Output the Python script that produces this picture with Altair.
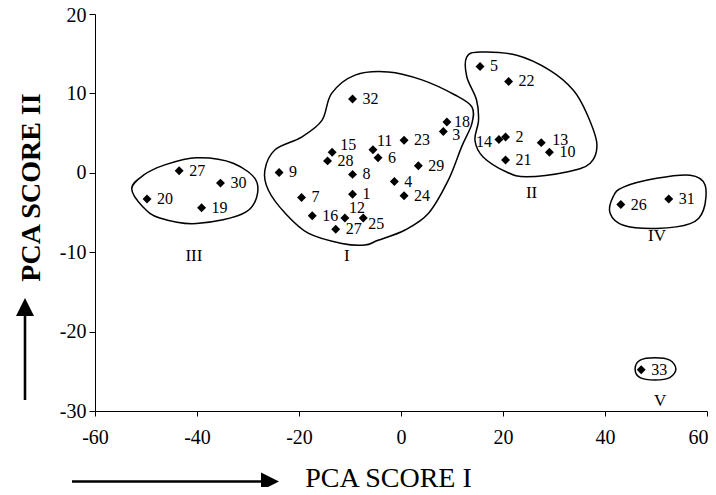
import altair as alt
import pandas as pd

# ---- sample scores ----
ids = ["20", "27", "30", "19",
       "32", "18", "3", "11", "23", "15", "28", "6", "29", "9", "8", "4",
       "7", "1", "24", "16", "12", "25", "27",
       "5", "22", "14", "2", "13", "10", "21",
       "26", "31", "33"]
pc1 = [-49.8, -43.5, -35.4, -39.1,
       -9.5, 9.0, 8.3, -5.5, 0.6, -13.5, -14.4, -4.5, 3.4, -23.9, -9.5, -1.3,
       -19.5, -9.5, 0.6, -17.4, -11.0, -7.4, -12.8,
       15.5, 21.1, 19.2, 20.5, 27.5, 29.1, 20.5,
       43.1, 52.5, 47.1]
pc2 = [-3.3, 0.25, -1.3, -4.4,
       9.3, 6.4, 5.2, 2.9, 4.1, 2.6, 1.5, 1.9, 0.9, 0.05, -0.2, -1.1,
       -3.1, -2.7, -2.9, -5.4, -5.7, -5.7, -7.1,
       13.4, 11.5, 4.2, 4.5, 3.8, 2.6, 1.6,
       -4.0, -3.3, -24.8]

# ---- cluster names ----
cluster_names = ["III", "I", "II", "IV", "V"]
cluster_name_x = [-40.6, -10.6, 25.6, 50.2, 50.8]
cluster_name_y = [-10.5, -10.5, -2.6, -8.0, -28.8]

# ---- hand-drawn cluster outlines ----
out_III_x = [-52.8, -50.5, -46.3, -40.1, -32.9, -28.2, -30.3, -40.1, -47.3, -50.6]
out_III_y = [-2.0, -0.3, 1.0, 1.9, 1.2, -1.3, -4.9, -6.4, -5.7, -4.3]
out_I_x = [-9.0, -2.5, 4.1, 10.6, 13.9, 13.9, 11.9, 9.3, 5.4, 0.8, -4.5, -7.1,
           -11.6, -18.2, -22.7, -26.0, -26.7, -24.7, -19.5, -15.5, -13.6]
out_I_y = [12.3, 12.7, 11.7, 9.8, 8.3, 6.2, 3.3, -0.9, -5.1, -7.2, -8.5, -9.1,
           -8.9, -7.6, -5.1, -2.2, 0.3, 2.9, 4.5, 6.6, 10.0]
out_II_x = [12.9, 15.5, 22.7, 29.2, 33.8, 36.4, 38.4, 37.1, 32.5, 24.6, 20.7,
            16.1, 14.5, 15.2, 14.8, 12.9]
out_II_y = [14.6, 15.2, 14.8, 12.9, 10.4, 7.5, 3.7, 1.2, 0.1, -0.5, 0.1,
            2.0, 4.1, 6.6, 9.2, 12.1]
out_IV_x = [41.6, 43.6, 50.1, 56.7, 59.6, 59.3, 56.7, 50.1, 43.6, 41.0]
out_IV_y = [-3.0, -1.8, -0.7, -0.3, -1.5, -4.7, -6.4, -7.0, -6.6, -5.1]
out_V_x = [45.9, 46.9, 49.8, 52.7, 53.9, 52.7, 49.8, 46.9]
out_V_y = [-24.7, -23.6, -23.3, -23.6, -24.7, -25.8, -26.1, -25.8]

x_ticks = [-60, -40, -20, 0, 20, 40, 60]
y_ticks = [20, 15, 10, 5, 0, -5, -10, -15, -20, -25, -30]

# ---- tables ----
pts = pd.DataFrame({"id": ids, "pc1": pc1, "pc2": pc2})
names = pd.DataFrame({"name": cluster_names, "pc1": cluster_name_x, "pc2": cluster_name_y})
rows = []
for cname, xs_, ys_ in [("III", out_III_x, out_III_y), ("I", out_I_x, out_I_y),
                        ("II", out_II_x, out_II_y), ("IV", out_IV_x, out_IV_y),
                        ("V", out_V_x, out_V_y)]:
    for i, (a, b) in enumerate(zip(xs_, ys_)):
        rows.append({"cluster": cname, "o": i, "pc1": a, "pc2": b})
outlines = pd.DataFrame(rows)

FONT = "Liberation Serif"
xs = alt.Scale(domain=[-60, 60], nice=False, zero=False)
ys = alt.Scale(domain=[-30, 20], nice=False, zero=False)

X = alt.X("pc1:Q", scale=xs, axis=alt.Axis(
    values=x_ticks, title="PCA SCORE I", grid=False, tickSize=5,
    labelPadding=11, labelFontSize=20, labelFont=FONT, labelColor="black",
    labelExpr="'' + datum.value",
    labelAlign={"condition": {"test": "datum.value == 60", "value": "right"}, "value": "center"},
    labelOffset={"condition": {"test": "datum.value == 60", "value": 1}, "value": 0},
    domainColor="black", tickColor="black", titleFont=FONT, titleFontSize=28,
    titleFontWeight="normal", titleColor="black", titleX=293, titleY=75,
    titleAlign="center", titleBaseline="alphabetic", labelFlush=False))
Y = alt.Y("pc2:Q", scale=ys, axis=alt.Axis(
    values=y_ticks, title="PCA SCORE II", grid=False, tickSize=6,
    labelPadding=3, labelFontSize=20, labelFont=FONT, labelColor="black",
    labelExpr="'' + datum.value",
    labelOffset={"condition": {"test": "datum.value == 20", "value": 1}, "value": 0},
    domainColor="black", tickColor="black", titleFont=FONT, titleFontSize=28,
    titleFontWeight="bold", titleColor="black", titleX=-64, titleY=173,
    titleAngle=270, titleAlign="center", titleBaseline="middle", labelFlush=False))

outline_layer = alt.Chart(outlines).mark_line(
    interpolate="cardinal-closed", color="black", strokeWidth=1.5
).encode(x=X, y=Y, detail="cluster:N", order="o:Q")

PX = alt.X("pc1:Q", scale=xs)
PY = alt.Y("pc2:Q", scale=ys)

point_layer = alt.Chart(pts).mark_point(
    shape="diamond", filled=True, color="black", size=80, opacity=1, strokeWidth=0
).encode(x=PX, y=PY)

special = {"14": (-7, 3, "right"), "12": (4, -10, "left"), "11": (4, -9, "left"),
           "15": (8, -7, "left"), "25": (5, 6, "left"), "13": (11, -3, "left"),
           "3": (9, 3, "left"), "18": (7, 0, "left")}
lab_layers = []
normal = [i for i in ids if i not in special]
lab_layers.append(alt.Chart(pts).transform_filter(
    alt.FieldOneOfPredicate(field="id", oneOf=normal)
).mark_text(align="left", baseline="middle", dx=10, font=FONT, fontSize=16,
            color="black").encode(x=PX, y=PY, text="id:N"))
for key, (dx, dy, al) in special.items():
    lab_layers.append(alt.Chart(pts).transform_filter(
        alt.datum.id == key
    ).mark_text(align=al, baseline="middle", dx=dx, dy=dy, font=FONT, fontSize=16,
                color="black").encode(x=PX, y=PY, text="id:N"))

name_layer = alt.Chart(names).mark_text(
    align="center", baseline="middle", font=FONT, fontSize=17, color="black"
).encode(x=PX, y=PY, text="name:N")

# ---- arrows beside the axis titles ----
arrow_df = pd.DataFrame({"a": [0]})
x_arrow = alt.Chart(arrow_df).mark_rule(color="black", strokeWidth=2.6).encode(
    x=alt.value(-23), x2=alt.value(170), y=alt.value(467.5))
x_head = alt.Chart(arrow_df).mark_point(
    shape="M-1,-1L1,0L-1,1Z", filled=True, color="black", size=324, opacity=1, strokeWidth=0
).encode(x=alt.value(175), y=alt.value(467.5))
y_arrow = alt.Chart(arrow_df).mark_rule(color="black", strokeWidth=2.6).encode(
    x=alt.value(-70), y=alt.value(386), y2=alt.value(298))
y_head = alt.Chart(arrow_df).mark_point(
    shape="M-1,1L0,-1L1,1Z", filled=True, color="black", size=324, opacity=1, strokeWidth=0
).encode(x=alt.value(-70), y=alt.value(293))

chart = alt.layer(
    outline_layer, point_layer, *lab_layers, name_layer,
    x_arrow, x_head, y_arrow, y_head
).properties(
    width=612, height=397,
    autosize=alt.AutoSizeParams(type="none"),
    padding={"left": 87, "top": 6, "right": 1, "bottom": 76},
    background="white"
).configure_view(stroke=None)

chart.save("out.html", embed_options={"renderer": "svg", "actions": False})
